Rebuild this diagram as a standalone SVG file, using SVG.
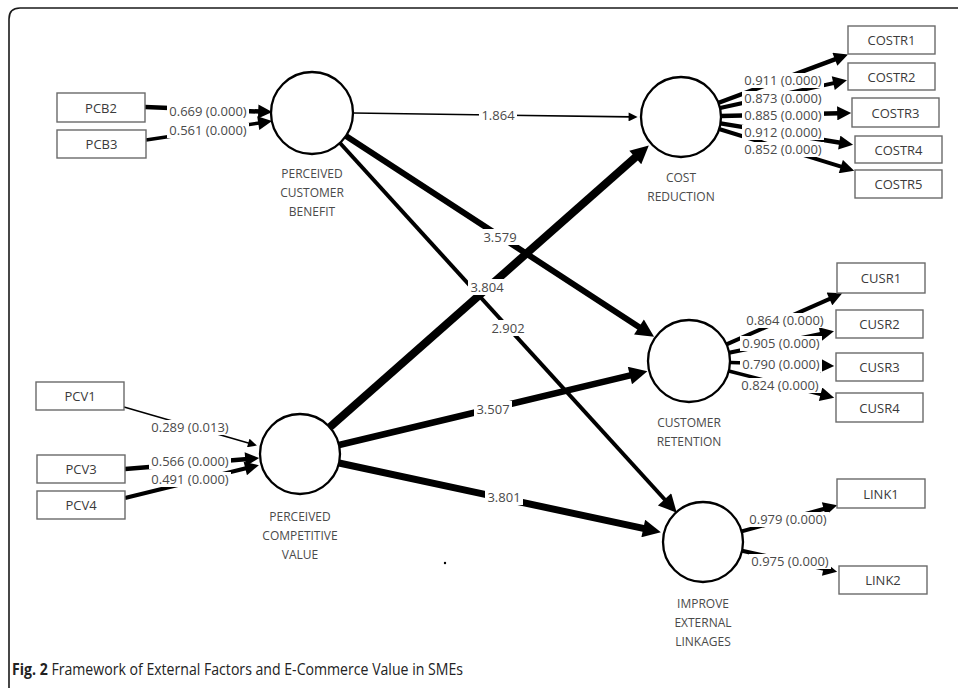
<svg xmlns="http://www.w3.org/2000/svg" width="958" height="688" viewBox="0 0 958 688">
<style>
.frame{fill:none;stroke:#1a1a1a;stroke-width:1.6}
.lv{fill:#fff;stroke:#000;stroke-width:2.3}
.box{fill:#fff;stroke:#6a6a6a;stroke-width:1.4}
.bt{font-family:"Open Sans","Noto Sans",sans-serif;font-size:13px;fill:#3a3a3a;text-anchor:middle;dominant-baseline:central}
.lt{font-family:"Open Sans","Noto Sans",sans-serif;font-size:12px;fill:#4a4a4a;text-anchor:middle;dominant-baseline:central}
.el{font-family:"Open Sans","Noto Sans",sans-serif;font-size:13px;fill:#4a4a4a;text-anchor:middle;dominant-baseline:central}
.sl{font-family:"Open Sans","Noto Sans",sans-serif;font-size:13px;fill:#4a4a4a;text-anchor:middle;dominant-baseline:central}
.bg{fill:#fff}
.e{fill:none;stroke:#000;stroke-linecap:butt}
.cap{font-family:"Open Sans","Noto Sans",sans-serif;font-size:15.5px;fill:#222}
</style>
<defs>
<marker id="aS" viewBox="0 0 10 10" refX="2" refY="5" markerUnits="userSpaceOnUse" markerWidth="11" markerHeight="9" orient="auto"><path d="M0,0 L10,5 L0,10 z" fill="#000"/></marker>
<marker id="aM" viewBox="0 0 10 10" refX="2" refY="5" markerUnits="userSpaceOnUse" markerWidth="15" markerHeight="14" orient="auto"><path d="M0,0 L10,5 L0,10 z" fill="#000"/></marker>
<marker id="aL" viewBox="0 0 10 10" refX="2" refY="5" markerUnits="userSpaceOnUse" markerWidth="20" markerHeight="18" orient="auto"><path d="M0,0 L10,5 L0,10 z" fill="#000"/></marker>
</defs>

<path class="frame" d="M9,688 V19 Q9,8 20,8 H958"/>

<g id="connectors">
  <line class="e" x1="353" y1="113" x2="630.4" y2="116.9" stroke-width="1.6" marker-end="url(#aS)"/>
  <line class="e" x1="346" y1="136" x2="642" y2="329" stroke-width="6" marker-end="url(#aL)"/>
  <line class="e" x1="340" y1="143" x2="667" y2="502" stroke-width="4" marker-end="url(#aL)"/>
  <line class="e" x1="330" y1="427" x2="638" y2="155" stroke-width="8" marker-end="url(#aL)"/>
  <line class="e" x1="339" y1="445" x2="633.4" y2="374.7" stroke-width="6.5" marker-end="url(#aL)"/>
  <line class="e" x1="339" y1="463" x2="646.8" y2="529.2" stroke-width="7" marker-end="url(#aL)"/>

  <line class="e" x1="145" y1="107" x2="261" y2="111.6" stroke-width="4.5" marker-end="url(#aM)"/>
  <line class="e" x1="146" y1="140" x2="261" y2="122.7" stroke-width="3.5" marker-end="url(#aM)"/>
  <line class="e" x1="124" y1="407" x2="250" y2="443.5" stroke-width="1.5" marker-end="url(#aS)"/>
  <line class="e" x1="125" y1="469" x2="248" y2="459" stroke-width="4.5" marker-end="url(#aM)"/>
  <line class="e" x1="125" y1="498" x2="248" y2="467.8" stroke-width="4" marker-end="url(#aM)"/>

  <line class="e" x1="718" y1="103" x2="837.5" y2="58.3" stroke-width="4.5" marker-end="url(#aM)"/>
  <line class="e" x1="720" y1="108" x2="836" y2="82.6" stroke-width="4" marker-end="url(#aM)"/>
  <line class="e" x1="721" y1="116" x2="840" y2="113.3" stroke-width="4.5" marker-end="url(#aM)"/>
  <line class="e" x1="720.5" y1="123.4" x2="842" y2="143" stroke-width="4.5" marker-end="url(#aM)"/>
  <line class="e" x1="719" y1="129" x2="843.5" y2="167.4" stroke-width="4" marker-end="url(#aM)"/>

  <line class="e" x1="726.5" y1="344.4" x2="832" y2="297.8" stroke-width="4" marker-end="url(#aM)"/>
  <line class="e" x1="729" y1="352.8" x2="823" y2="333.5" stroke-width="4" marker-end="url(#aM)"/>
  <line class="e" x1="730" y1="362.4" x2="823" y2="365.6" stroke-width="3.5" marker-end="url(#aM)"/>
  <line class="e" x1="728.7" y1="371" x2="823.3" y2="395" stroke-width="3.5" marker-end="url(#aM)"/>

  <line class="e" x1="741.6" y1="531.4" x2="826.4" y2="508.2" stroke-width="4" marker-end="url(#aM)"/>
  <line class="e" x1="742" y1="550.7" x2="826.2" y2="569.4" stroke-width="4" marker-end="url(#aM)"/>

  <rect class="bg" x="479" y="107" width="38" height="16"/><text class="sl" x="498" y="115">1.864</text>
  <rect class="bg" x="481" y="229" width="38" height="16"/><text class="sl" x="500" y="237">3.579</text>
  <rect class="bg" x="468" y="279" width="38" height="16"/><text class="sl" x="487" y="287">3.804</text>
  <rect class="bg" x="489" y="320" width="38" height="16"/><text class="sl" x="508" y="328">2.902</text>
  <rect class="bg" x="474" y="401" width="38" height="16"/><text class="sl" x="493" y="409">3.507</text>
  <rect class="bg" x="485" y="489" width="38" height="16"/><text class="sl" x="504" y="497">3.801</text>

  <rect class="bg" x="167" y="104" width="82" height="15"/><text class="el" x="208" y="111">0.669 (0.000)</text>
  <rect class="bg" x="167" y="123" width="82" height="15"/><text class="el" x="208" y="130">0.561 (0.000)</text>
  <rect class="bg" x="149" y="420" width="82" height="15"/><text class="el" x="190" y="427">0.289 (0.013)</text>
  <rect class="bg" x="149" y="454" width="82" height="15"/><text class="el" x="190" y="461">0.566 (0.000)</text>
  <rect class="bg" x="149" y="472" width="82" height="15"/><text class="el" x="190" y="479">0.491 (0.000)</text>

  <rect class="bg" x="742" y="73" width="82" height="15"/><text class="el" x="783" y="80">0.911 (0.000)</text>
  <rect class="bg" x="742" y="91" width="82" height="15"/><text class="el" x="783" y="98">0.873 (0.000)</text>
  <rect class="bg" x="742" y="108" width="82" height="15"/><text class="el" x="783" y="115">0.885 (0.000)</text>
  <rect class="bg" x="742" y="125" width="82" height="15"/><text class="el" x="783" y="132">0.912 (0.000)</text>
  <rect class="bg" x="742" y="142" width="82" height="15"/><text class="el" x="783" y="149">0.852 (0.000)</text>

  <rect class="bg" x="744" y="313" width="82" height="15"/><text class="el" x="785" y="320">0.864 (0.000)</text>
  <rect class="bg" x="740" y="336" width="82" height="15"/><text class="el" x="781" y="343">0.905 (0.000)</text>
  <rect class="bg" x="740" y="357" width="82" height="15"/><text class="el" x="781" y="364">0.790 (0.000)</text>
  <rect class="bg" x="739" y="378" width="82" height="15"/><text class="el" x="780" y="385">0.824 (0.000)</text>

  <rect class="bg" x="747" y="512" width="82" height="15"/><text class="el" x="788" y="519">0.979 (0.000)</text>
  <rect class="bg" x="749" y="554" width="82" height="15"/><text class="el" x="790" y="561">0.975 (0.000)</text>
</g>

<g id="PCB"><circle class="lv" cx="312" cy="113" r="41"/>
  <text class="lt" x="312" y="173">PERCEIVED</text><text class="lt" x="312" y="192">CUSTOMER</text><text class="lt" x="312" y="211">BENEFIT</text></g>
<g id="PCV"><circle class="lv" cx="300" cy="454" r="40"/>
  <text class="lt" x="300" y="516">PERCEIVED</text><text class="lt" x="300" y="535">COMPETITIVE</text><text class="lt" x="300" y="554">VALUE</text></g>
<g id="COST"><circle class="lv" cx="681" cy="117" r="40"/>
  <text class="lt" x="681" y="177">COST</text><text class="lt" x="681" y="196">REDUCTION</text></g>
<g id="CUSR"><circle class="lv" cx="689" cy="361" r="41"/>
  <text class="lt" x="689" y="422">CUSTOMER</text><text class="lt" x="689" y="441">RETENTION</text></g>
<g id="LINK"><circle class="lv" cx="703" cy="542" r="40"/>
  <text class="lt" x="703" y="603">IMPROVE</text><text class="lt" x="703" y="622">EXTERNAL</text><text class="lt" x="703" y="641">LINKAGES</text></g>

<g id="PCB2"><rect class="box" x="57" y="93" width="88" height="29"/><text class="bt" x="101" y="107.5">PCB2</text></g>
<g id="PCB3"><rect class="box" x="57" y="130" width="89" height="28"/><text class="bt" x="101.5" y="144">PCB3</text></g>
<g id="PCV1"><rect class="box" x="36" y="382" width="88" height="28"/><text class="bt" x="80" y="396">PCV1</text></g>
<g id="PCV3"><rect class="box" x="37" y="455" width="88" height="28"/><text class="bt" x="81" y="469">PCV3</text></g>
<g id="PCV4"><rect class="box" x="37" y="491" width="88" height="28"/><text class="bt" x="81" y="505">PCV4</text></g>
<g id="COSTR1"><rect class="box" x="848" y="26" width="87" height="28"/><text class="bt" x="891.5" y="40">COSTR1</text></g>
<g id="COSTR2"><rect class="box" x="848" y="63" width="87" height="27"/><text class="bt" x="891.5" y="76.5">COSTR2</text></g>
<g id="COSTR3"><rect class="box" x="852" y="98" width="87" height="29"/><text class="bt" x="895.5" y="112.5">COSTR3</text></g>
<g id="COSTR4"><rect class="box" x="855" y="136" width="87" height="27"/><text class="bt" x="898.5" y="149.5">COSTR4</text></g>
<g id="COSTR5"><rect class="box" x="855" y="170" width="87" height="28"/><text class="bt" x="898.5" y="184">COSTR5</text></g>
<g id="CUSR1"><rect class="box" x="837" y="263" width="88" height="30"/><text class="bt" x="881" y="278">CUSR1</text></g>
<g id="CUSR2"><rect class="box" x="836" y="310" width="87" height="28"/><text class="bt" x="879.5" y="324">CUSR2</text></g>
<g id="CUSR3"><rect class="box" x="836" y="353" width="87" height="28"/><text class="bt" x="879.5" y="367">CUSR3</text></g>
<g id="CUSR4"><rect class="box" x="836" y="393" width="87" height="29"/><text class="bt" x="879.5" y="407.5">CUSR4</text></g>
<g id="LINK1"><rect class="box" x="837" y="479" width="88" height="29"/><text class="bt" x="881" y="493.5">LINK1</text></g>
<g id="LINK2"><rect class="box" x="839" y="566" width="88" height="28"/><text class="bt" x="883" y="580">LINK2</text></g>

<circle cx="445" cy="563" r="1.2" fill="#000"/>

<text class="cap" x="12" y="675" textLength="451" lengthAdjust="spacingAndGlyphs"><tspan font-weight="bold">Fig. 2</tspan> Framework of External Factors and E-Commerce Value in SMEs</text>
</svg>
